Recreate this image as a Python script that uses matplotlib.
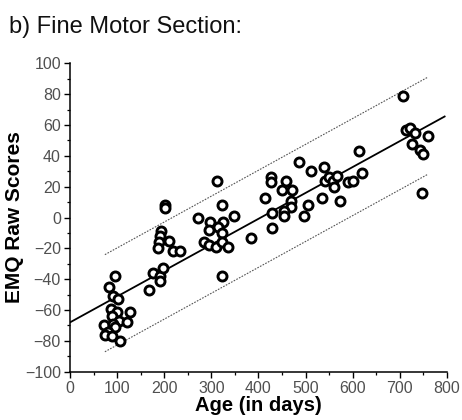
import numpy as np
import matplotlib.pyplot as plt
from matplotlib.ticker import MultipleLocator

plt.rcParams['font.family'] = ['Liberation Sans', 'DejaVu Sans']

# age in days / EMQ raw score
age_days = [96, 83, 92, 102, 86, 99, 127, 89, 103, 120, 73, 92, 96, 81, 75, 89, 106,
            201, 201, 193, 190, 188, 187, 210, 219, 234, 177, 190, 198, 191, 168,
            272, 297, 324, 315, 294, 322, 347, 284, 295, 310, 323, 335, 322, 313, 322, 384,
            426, 426, 413, 459, 449, 471, 485, 512, 539, 541, 550, 559, 567, 561, 535,
            573, 613, 591, 600, 619, 468, 469, 455, 454, 506, 497, 428, 428,
            706, 713, 722, 733, 760, 725, 743, 750, 747]
emq_scores = [-38, -45, -51, -53, -59, -61, -61, -64, -67, -68, -70, -69, -71, -74, -76, -77, -80,
              8, 6, -9, -12, -16, -20, -15, -22, -22, -36, -38, -33, -41, -47,
              0, -3, -3, -6, -8, -10, 1, -16, -18, -19, -16, -19, 8, 24, -38, -13,
              26, 23, 13, 24, 18, 18, 36, 30, 33, 24, 26, 24, 27, 20, 13,
              11, 43, 23, 24, 29, 11, 7, 4, 1, 8, 1, 3, -7,
              79, 57, 58, 55, 53, 48, 44, 41, 16]

# regression line and prediction band
fit_intercept = -68
fit_slope = 0.168
band_halfwidth = 31.5
fit_range = [0, 795]
band_range = [74, 760]

fig = plt.figure(figsize=(4.62, 4.2), dpi=100)
ax = fig.add_axes([0.1515, 0.115, 0.816, 0.734])

ax.plot(age_days, emq_scores, 'o', ms=6.5, mfc='white', mec='black', mew=2.1,
        linestyle='none', zorder=3)

fx = np.array(fit_range)
ax.plot(fx, fit_intercept + fit_slope * fx, color='black', lw=1.3, zorder=2)
bx = np.array(band_range)
for sign in (1, -1):
  ax.plot(bx, fit_intercept + fit_slope * bx + sign * band_halfwidth,
          color='#555555', lw=0.8, linestyle=(0, (1.5, 1.2)), zorder=1)

ax.set_xlim(0, 800)
ax.set_ylim(-100, 100)
ax.xaxis.set_major_locator(MultipleLocator(100))
ax.xaxis.set_minor_locator(MultipleLocator(50))
ax.yaxis.set_major_locator(MultipleLocator(20))
ax.yaxis.set_minor_locator(MultipleLocator(10))

for side in ('top', 'right'):
  ax.spines[side].set_visible(False)
for side in ('left', 'bottom'):
  ax.spines[side].set_linewidth(1.1)

ax.tick_params(which='major', direction='out', length=4.5, width=1, labelsize=11.5,
               labelcolor='#505050', pad=2)
ax.tick_params(which='minor', direction='out', length=2.5, width=0.9)

ax.set_xlabel('Age (in days)', fontsize=14.5, fontweight='bold', labelpad=0)
ax.set_ylabel('EMQ Raw Scores', fontsize=15, fontweight='bold', labelpad=1)

fig.text(0.02, 0.935, 'b) Fine Motor Section:', fontsize=17, ha='left', va='center',
         color='#111111')

fig.savefig('out.png', dpi=100)
